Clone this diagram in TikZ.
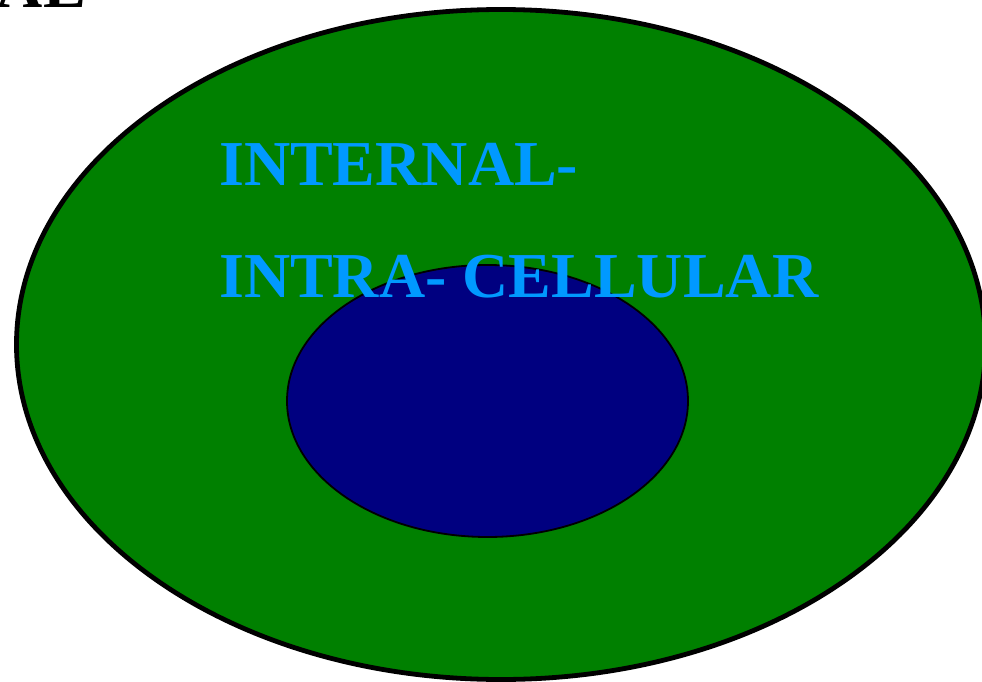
\documentclass[tikz,border=0pt]{standalone}
\usepackage{fontspec}
\setmainfont{Liberation Serif}
\definecolor{cellgreen}{RGB}{0,128,0}
\definecolor{nucnavy}{RGB}{0,0,128}
\definecolor{labelblue}{RGB}{0,153,255}
\tikzset{
  lbl/.style={anchor=base west, inner sep=0pt, text=labelblue, font=\bfseries\fontsize{64}{70}\selectfont},
  toplbl/.style={anchor=base east, inner sep=0pt, text=black, font=\bfseries\fontsize{64}{70}\selectfont}
}
\begin{document}
\begin{tikzpicture}[x=1pt,y=-1pt]
\useasboundingbox (0,0) rectangle (982,682);
\clip (0,0) rectangle (982,682);
\draw[line width=4.8pt, fill=cellgreen] (501,344.5) ellipse [x radius=484.5, y radius=335] node (cell) {};
\draw[line width=1.8pt, fill=nucnavy] (487.5,401) ellipse [x radius=200.5, y radius=136] node (nucleus) {};
\node[lbl] (internal) at (219,185) {INTERNAL-};
\node[lbl] (intra) at (219,297) {INTRA- CELLULAR};
\node[toplbl] (ext) at (86,8) {AL};
\end{tikzpicture}
\end{document}
